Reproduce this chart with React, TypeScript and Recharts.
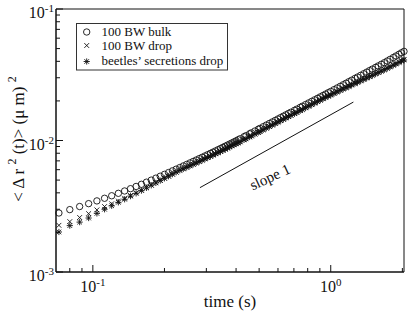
import React from "react";
import {
  ReferenceArea,
  ReferenceLine,
  Scatter,
  ScatterChart,
  XAxis,
  YAxis,
} from "recharts";

// lag time (s)
const times = [
  0.072, 0.08, 0.088, 0.096, 0.104, 0.112, 0.12, 0.128, 0.136, 0.144,
  0.152, 0.16, 0.168, 0.176, 0.184, 0.192, 0.2, 0.208, 0.216, 0.224,
  0.232, 0.24, 0.248, 0.256, 0.264, 0.272, 0.28, 0.288, 0.296, 0.304,
  0.312, 0.32, 0.328, 0.336, 0.344, 0.352, 0.36, 0.368, 0.376, 0.384,
  0.392, 0.4,
  0.408, 0.416, 0.432, 0.44, 0.456, 0.464, 0.48, 0.496, 0.504, 0.52,
  0.536, 0.552, 0.568, 0.584, 0.6, 0.616, 0.632, 0.648, 0.664, 0.68,
  0.704, 0.72, 0.744, 0.76, 0.784, 0.808, 0.832, 0.856, 0.88, 0.904,
  0.928, 0.952, 0.976, 1.0, 1.032, 1.064, 1.096, 1.128, 1.16, 1.192,
  1.224, 1.264, 1.296, 1.336, 1.376, 1.416, 1.456, 1.496, 1.544, 1.584,
  1.632, 1.68, 1.728, 1.776, 1.832, 1.88, 1.936, 1.984, 2.032,
];

// <Δr²(t)> in µm², 100 BW bulk (open circles)
const bulk = [
  0.00281, 0.002981, 0.003147, 0.00331, 0.003473, 0.003636, 0.0038, 0.003965, 0.004132, 0.004301,
  0.004472, 0.004645, 0.004821, 0.004997, 0.005173, 0.00535, 0.005528, 0.005704, 0.005879, 0.006055,
  0.006229, 0.006405, 0.00658, 0.006756, 0.006931, 0.007105, 0.00728, 0.007454, 0.00763, 0.007805,
  0.007981, 0.008157, 0.008334, 0.008511, 0.008689, 0.008867, 0.009044, 0.009223, 0.009401, 0.009579,
  0.009758, 0.009937,
  0.010125, 0.010312, 0.010687, 0.010874, 0.011247, 0.011433, 0.011805, 0.012177, 0.012362, 0.012733,
  0.013103, 0.013472, 0.013841, 0.014209, 0.014577, 0.014944, 0.015311, 0.015677, 0.016042, 0.016407,
  0.016954, 0.017318, 0.017863, 0.018225, 0.018769, 0.019312, 0.019853, 0.020394, 0.020934, 0.021473,
  0.022012, 0.022549, 0.023086, 0.023622, 0.024355, 0.025087, 0.025819, 0.02655, 0.02728, 0.02801,
  0.028739, 0.029649, 0.030377, 0.031287, 0.032195, 0.033102, 0.034009, 0.034915, 0.036001, 0.036909,
  0.03799, 0.039073, 0.040235, 0.041397, 0.042756, 0.043922, 0.045283, 0.046452, 0.047621,
];

// 100 BW drop (crosses)
const bwDrop = [
  0.002265, 0.002415, 0.002596, 0.002777, 0.002966, 0.003144, 0.003302, 0.003465, 0.003636, 0.003818,
  0.004005, 0.004197, 0.004394, 0.004587, 0.004781, 0.004979, 0.005173, 0.005365, 0.005559, 0.005755,
  0.005952, 0.006109, 0.006276, 0.006444, 0.006611, 0.006777, 0.006944, 0.00711, 0.007278, 0.007445,
  0.007612, 0.00778, 0.007949, 0.008118, 0.008288, 0.008458, 0.008626, 0.008797, 0.008967, 0.009137,
  0.009307, 0.009478,
  0.009624, 0.009801, 0.010158, 0.010336, 0.01069, 0.010867, 0.011221, 0.011574, 0.01175, 0.012103,
  0.012454, 0.012805, 0.013156, 0.013506, 0.013855, 0.014204, 0.014553, 0.014901, 0.015248, 0.015595,
  0.016086, 0.016432, 0.016949, 0.017292, 0.017809, 0.018324, 0.018837, 0.01935, 0.019863, 0.020374,
  0.020886, 0.021395, 0.021905, 0.022335, 0.022968, 0.023596, 0.02422, 0.024841, 0.025435, 0.026024,
  0.026608, 0.027355, 0.027928, 0.028665, 0.029393, 0.030116, 0.030833, 0.031543, 0.032411, 0.033112,
  0.033962, 0.034809, 0.035718, 0.036621, 0.037691, 0.038584, 0.03964, 0.040522, 0.041395,
];

// beetles' secretions drop (asterisks)
const beetles = [
  0.002015, 0.002253, 0.002395, 0.002573, 0.00279, 0.002999, 0.003189, 0.003387, 0.003573, 0.003772,
  0.003963, 0.00416, 0.004364, 0.004563, 0.004756, 0.004954, 0.005154, 0.005346, 0.005539, 0.005735,
  0.005931, 0.006077, 0.006243, 0.00641, 0.006576, 0.006741, 0.006907, 0.007073, 0.00724, 0.007406,
  0.007573, 0.00774, 0.007908, 0.008075, 0.008244, 0.008413, 0.008581, 0.008751, 0.00892, 0.009089,
  0.009259, 0.009429,
  0.009573, 0.00975, 0.010105, 0.010281, 0.010634, 0.01081, 0.011162, 0.011513, 0.011688, 0.012039,
  0.012389, 0.012738, 0.013087, 0.013435, 0.013783, 0.01413, 0.014477, 0.014823, 0.015168, 0.015513,
  0.015974, 0.016317, 0.016831, 0.017172, 0.017684, 0.018196, 0.018706, 0.019215, 0.019724, 0.020232,
  0.02074, 0.021246, 0.021752, 0.022101, 0.022728, 0.023349, 0.023967, 0.024581, 0.025169, 0.025752,
  0.02633, 0.027069, 0.027636, 0.028365, 0.029086, 0.029801, 0.03051, 0.031213, 0.032072, 0.032766,
  0.033607, 0.034445, 0.035345, 0.036238, 0.037297, 0.03818, 0.039226, 0.040098, 0.040963,
];

const xTicks = [0.08, 0.09, 0.1, 0.2, 0.3, 0.4, 0.5, 0.6, 0.7, 0.8, 0.9, 1, 2];
const yTicks = [
  0.001, 0.002, 0.003, 0.004, 0.005, 0.006, 0.007, 0.008, 0.009,
  0.01, 0.02, 0.03, 0.04, 0.05, 0.06, 0.07, 0.08, 0.09, 0.1,
];

// guide line with slope 1 (two ends, in data units)
const slopeT = [0.282, 1.245];
const slopeY = [0.00438, 0.0196];

const X_DOMAIN = [0.07, 2.032];
const Y_DOMAIN = [0.001, 0.1];

const FONT = "'Liberation Serif', 'Times New Roman', serif";
const INK = "#111";

const toPoints = (ys: number[]) => ys.map((v, i) => ({ t: times[i], v }));

const isDecade = (v: number) => {
  const l = Math.log10(v);
  return Math.abs(l - Math.round(l)) < 1e-6;
};

function CircleMark(props: any) {
  return <circle cx={props.cx} cy={props.cy} r={3.2} fill="none" stroke={INK} strokeWidth={0.9} />;
}

function CrossMark(props: any) {
  const { cx, cy } = props;
  const s = 2.4;
  return (
    <path
      d={`M${cx - s},${cy - s}L${cx + s},${cy + s}M${cx - s},${cy + s}L${cx + s},${cy - s}`}
      stroke={INK}
      strokeWidth={0.9}
    />
  );
}

function StarMark(props: any) {
  const { cx, cy } = props;
  const s = 3.1;
  const d = 2.3;
  return (
    <path
      d={`M${cx},${cy - s}L${cx},${cy + s}M${cx - s},${cy}L${cx + s},${cy}M${cx - d},${cy - d}L${cx + d},${cy + d}M${cx - d},${cy + d}L${cx + d},${cy - d}`}
      stroke={INK}
      strokeWidth={0.9}
    />
  );
}

function XTick(props: any) {
  const { x, y, payload } = props;
  const v = payload.value;
  const major = isDecade(v);
  return (
    <g>
      <line x1={x} x2={x} y1={y} y2={y - (major ? 7 : 4)} stroke={INK} />
      {major && (
        <text x={x} y={y + 20} textAnchor="middle" fontFamily={FONT} fontSize={16} fill={INK}>
          10
          <tspan dy={-6} fontSize={11}>
            {String(Math.round(Math.log10(v)))}
          </tspan>
        </text>
      )}
    </g>
  );
}

function YTick(props: any) {
  const { x, y, payload } = props;
  const v = payload.value;
  const major = isDecade(v);
  return (
    <g>
      <line x1={x} x2={x + (major ? 7 : 4)} y1={y} y2={y} stroke={INK} />
      {major && (
        <text x={x - 2} y={y + 9} textAnchor="end" fontFamily={FONT} fontSize={16} fill={INK}>
          10
          <tspan dy={-6} fontSize={11}>
            {String(Math.round(Math.log10(v)))}
          </tspan>
        </text>
      )}
    </g>
  );
}

function Overlay() {
  return (
    <svg
      width={409}
      height={312}
      style={{ position: "absolute", left: 0, top: 0, pointerEvents: "none" }}
    >
      {/* legend */}
      <rect x={76.5} y={23.5} width={151} height={46.5} fill="#fff" stroke="#333" strokeWidth={1} />
      <CircleMark cx={86.7} cy={32} />
      <CrossMark cx={86.7} cy={45.5} />
      <StarMark cx={86.7} cy={61.5} />
      <g fontFamily={FONT} fontSize={13} fill={INK}>
        <text x={101.5} y={36}>100 BW bulk</text>
        <text x={101.5} y={50}>100 BW drop</text>
        <text x={101.5} y={65}>beetles’ secretions drop</text>
      </g>

      {/* slope label */}
      <text
        x={270}
        y={177}
        transform="rotate(-25 270 177)"
        textAnchor="middle"
        dominantBaseline="central"
        fontFamily={FONT}
        fontSize={15}
        fill={INK}
      >
        slope 1
      </text>

      {/* axis titles */}
      <text x={230} y={307} textAnchor="middle" fontFamily={FONT} fontSize={17} fill={INK}>
        time (s)
      </text>
      <text
        transform="translate(24 139) rotate(-90)"
        textAnchor="middle"
        fontFamily={FONT}
        fontSize={17}
        fill={INK}
      >
        {"< Δ r "}
        <tspan dy={-8} fontSize={12}>2</tspan>
        <tspan dy={8}>{" (t)> (μ m) "}</tspan>
        <tspan dy={-8} fontSize={12}>2</tspan>
      </text>
    </svg>
  );
}

export default function App() {
  return (
    <div style={{ position: "absolute", left: 0, top: 0, width: 409, height: 312, background: "#fff" }}>
      <ScatterChart
        width={409}
        height={312}
        margin={{ top: 9, right: 5, bottom: 39, left: 55 }}
      >
        <XAxis
          dataKey="t"
          type="number"
          scale="log"
          domain={X_DOMAIN}
          ticks={xTicks}
          interval={0}
          height={1}
          tickSize={0}
          tickMargin={0}
          tickLine={false}
          axisLine={{ stroke: INK }}
          tick={<XTick />}
        />
        <YAxis
          dataKey="v"
          type="number"
          scale="log"
          domain={Y_DOMAIN}
          ticks={yTicks}
          interval={0}
          width={1}
          tickSize={0}
          tickMargin={0}
          tickLine={false}
          axisLine={{ stroke: INK }}
          tick={<YTick />}
        />
        <ReferenceArea
          x1={X_DOMAIN[0]}
          x2={X_DOMAIN[1]}
          y1={Y_DOMAIN[0]}
          y2={Y_DOMAIN[1]}
          fill="none"
          fillOpacity={0}
          stroke={INK}
          strokeOpacity={1}
        />
        <ReferenceLine
          segment={[
            { x: slopeT[0], y: slopeY[0] },
            { x: slopeT[1], y: slopeY[1] },
          ]}
          stroke={INK}
          strokeWidth={1}
        />
        <Scatter data={toPoints(bulk)} shape={<CircleMark />} isAnimationActive={false} />
        <Scatter data={toPoints(bwDrop)} shape={<CrossMark />} isAnimationActive={false} />
        <Scatter data={toPoints(beetles)} shape={<StarMark />} isAnimationActive={false} />
      </ScatterChart>
      <Overlay />
    </div>
  );
}
